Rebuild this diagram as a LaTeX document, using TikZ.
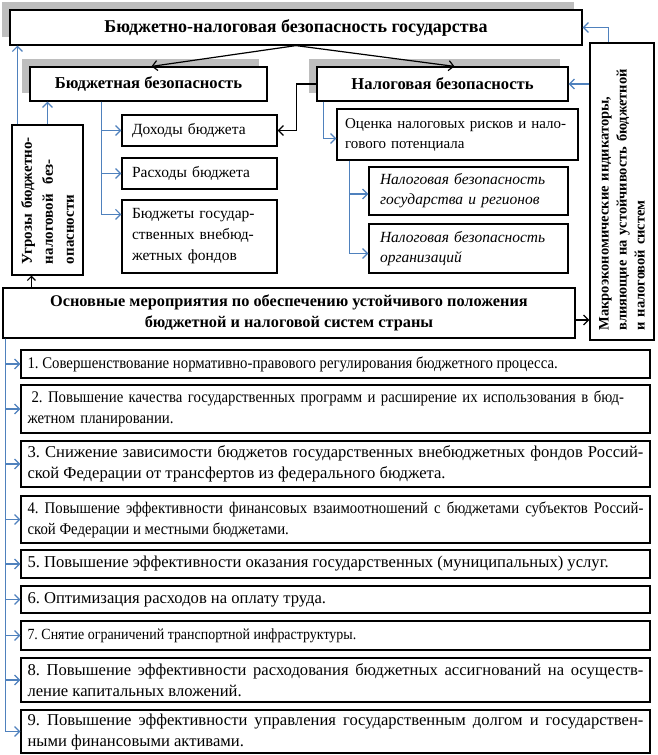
\documentclass[tikz,border=0pt]{standalone}
\usepackage{fontspec}
\setmainfont{Liberation Serif}
\newfontfamily\narrowrm[FakeStretch=0.91]{Liberation Serif}
\newfontfamily\narrowerrm[FakeStretch=0.9]{Liberation Serif}
\usetikzlibrary{arrows.meta, shadows}
\definecolor{linkblue}{RGB}{79,129,189}
\definecolor{shadegray}{RGB}{190,190,190}
\frenchspacing

\begin{document}
\begin{tikzpicture}[x=1pt, y=-1pt]
		\tikzstyle{Box} = [rectangle, draw=black, line width=1.2pt, fill=white, inner sep=0pt]
		\tikzstyle{Head} = [Box, align=center, font=\fontsize{16.6}{20}\selectfont\bfseries]
		\tikzstyle{Shad} = [drop shadow={shadow xshift=-8pt, shadow yshift=8pt, fill=shadegray, opacity=1}]
		\tikzstyle{Sub} = [Box, align=left, font=\fontsize{15.5}{21}\selectfont]
		\tikzstyle{Item} = [Box, minimum width=629pt, text width=616pt, align=justify, font=\fontsize{16.6}{21}\selectfont]
		\tikzstyle{ItemN} = [Item, font=\fontsize{16.25}{21}\selectfont\narrowrm]
		\tikzstyle{arrow} = [line width=1.2pt, ->, >={Straight Barb[length=5pt, width=10pt]}]
		\tikzstyle{barrow} = [arrow, draw=linkblue]
		
		\path [fill=white] (0,0) rectangle (657,755);
		\useasboundingbox (0,0) rectangle (657,755);
		
		% upper part
		\node (gos) [Head, Shad, minimum width=572pt, minimum height=35pt, font=\fontsize{18}{20}\selectfont\bfseries] at (296,27.5) {Бюджетно-налоговая безопасность государства};
		\node (bsec) [Head, Shad, minimum width=237pt, minimum height=34pt] at (148.5,84) {Бюджетная безопасность};
		\node (nsec) [Head, Shad, minimum width=251pt, minimum height=34pt] at (442.5,84) {Налоговая безопасность};
		
		\node (ugr) [Box, minimum width=71pt, minimum height=150pt] at (47.5,200) {};
		\node (ugrtxt) [rotate=90, text width=128pt, align=left, font=\fontsize{15}{21}\selectfont\bfseries] at (ugr) {Угрозы бюджетно-\\налоговой\ \ без-\\опасности};
		
		\node (macro) [Box, minimum width=64pt, minimum height=297pt] at (622,191.5) {};
		\node (macrotxt) [rotate=90, text width=278pt, align=left, font=\fontsize{14.5}{18}\selectfont\bfseries] at (macro) {Макроэкономические индикаторы,\\влияющие на устойчивость бюджетной\\и налоговой систем};
		
		\node (doh) [Sub, minimum width=155pt, text width=135pt, minimum height=31pt] at (199.5,130.5) {Доходы бюджета};
		\node (ras) [Sub, minimum width=155pt, text width=135pt, minimum height=31pt] at (199.5,173.5) {Расходы бюджета};
		\node (bud) [Sub, minimum width=155pt, text width=135pt, minimum height=73pt] at (199.5,236.5) {Бюджеты государ-\\ственных внебюд-\\жетных фондов};
		
		\node (ocen) [Sub, minimum width=241pt, text width=225pt, minimum height=51pt, font=\fontsize{15}{20}\selectfont] at (457.5,134.5) {Оценка налоговых рисков и нало-\\гового потенциала};
		\node (ngos) [Sub, minimum width=199pt, text width=177pt, minimum height=48pt, font=\fontsize{15.5}{20}\selectfont\itshape] at (468.5,191) {Налоговая безопасность\\государства и регионов};
		\node (norg) [Sub, minimum width=199pt, text width=177pt, minimum height=49pt, font=\fontsize{15.5}{20}\selectfont\itshape] at (468.5,248.5) {Налоговая безопасность\\организаций};
		
		\node (osn) [Head, minimum width=572pt, minimum height=50pt, font=\fontsize{16.3}{21}\selectfont\bfseries] at (289,313) {Основные мероприятия по обеспечению устойчивого положения\\бюджетной и налоговой систем страны};
		
		% list of measures
		\node (item1) [ItemN, minimum height=28pt] at (335.5,364) {1. Совершенствование нормативно-правового регулирования бюджетного процесса.};
		\node (item2) [ItemN, minimum height=48pt, align=left] at (335.5,409) {\hspace*{4pt}2. Повышение качества государственных программ и расширение их использования в бюд-\\жетном планировании.};
		\node (item3) [Item, minimum height=46pt] at (335.5,464) {3. Снижение зависимости бюджетов государственных внебюджетных фондов Россий-\linebreak ской Федерации от трансфертов из федерального бюджета.};
		\node (item4) [ItemN, minimum height=47pt] at (335.5,519.5) {4. Повышение эффективности финансовых взаимоотношений с бюджетами субъектов Россий-\linebreak ской Федерации и местными бюджетами.};
		\node (item5) [Item, minimum height=28pt] at (335.5,564) {5. Повышение эффективности оказания государственных (муниципальных) услуг.};
		\node (item6) [Item, minimum height=27pt] at (335.5,599.5) {6. Оптимизация расходов на оплату труда.};
		\node (item7) [Item, minimum height=29pt, font=\fontsize{15.5}{20}\selectfont\narrowerrm] at (335.5,635.5) {7. Снятие ограничений транспортной инфраструктуры.};
		\node (item8) [Item, minimum height=44pt] at (335.5,680) {8. Повышение эффективности расходования бюджетных ассигнований на осуществ-\linebreak ление капитальных вложений.};
		\node (item9) [Item, minimum height=43pt] at (335.5,731.5) {9. Повышение эффективности управления государственным долгом и государствен-\linebreak ными финансовыми активами.};
		
		% connectors
		\draw [arrow] (gos.south) -- ([xshift=3pt]bsec.north);
		\draw [arrow] (gos.south) -- ([xshift=12pt]nsec.north);
		
		\coordinate (u1) at ([xshift=6pt]ugr.north west);
		\draw [barrow] (u1) -- (u1 |- gos.south);
		\draw [barrow] (ugr.north) -- (ugr.north |- bsec.south);
		
		\coordinate (b1) at ([xshift=72pt]bsec.south west);
		\draw [barrow] (b1) |- (doh);
		\draw [barrow] (b1) |- (ras);
		\draw [barrow] (b1) |- ([yshift=-15pt]bud.north west);
		
		\draw [arrow] (nsec.west) -- ++(-20,0) |- (doh.east);
		
		\coordinate (n1) at ([xshift=7pt]nsec.south west);
		\draw [barrow] (n1) |- ([yshift=-4pt]ocen.west);
		
		\coordinate (o1) at ([xshift=13pt]ocen.south west);
		\draw [barrow] (o1) |- ([yshift=-3pt]ngos.west);
		\draw [barrow] (o1) |- ([yshift=-5pt]norg.west);
		
		\coordinate (m1) at ([xshift=19pt]macro.north west);
		\draw [barrow] (m1) |- (gos.east);
		\draw [barrow] (macro.west |- nsec.east) -- (nsec.east);
		
		\draw [arrow] ([yshift=-7pt]osn.east) -- ([yshift=-7pt]osn.east -| macro.west);
		\coordinate (s1) at ([xshift=29pt]osn.north west);
		\draw [arrow, >={Straight Barb[length=4pt, width=8pt]}] (s1) -- (s1 |- ugr.south);
		
		\coordinate (s2) at ([xshift=3pt]osn.south west);
		\foreach \i in {1,...,9}
			\draw [barrow] (s2) |- (item\i);
\end{tikzpicture}
\end{document}
